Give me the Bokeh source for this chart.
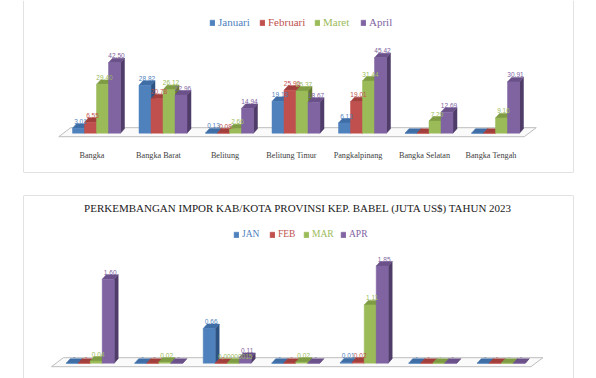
from bokeh.plotting import figure
from bokeh.models import Range1d, Span, Legend, LegendItem, Label
from bokeh.layouts import column
from bokeh.embed import file_html
from bokeh.resources import INLINE
from bokeh.core.properties import value

# ---------------- data ----------------
regions = ["Bangka", "Bangka Barat", "Belitung", "Belitung Timur",
           "Pangkalpinang", "Bangka Selatan", "Bangka Tengah"]

ekspor_months = ["Januari", "Februari", "Maret", "April"]
ekspor_jan = [3.01, 28.82, 0.13, 19.13, 6.13, 0.0, 0.0]
ekspor_feb = [6.55, 20.78, 0.08, 25.90, 19.01, 0.0, 0.0]
ekspor_mar = [29.40, 26.12, 2.66, 25.37, 31.44, 7.29, 9.16]
ekspor_apr = [42.50, 22.96, 14.94, 18.67, 45.42, 12.69, 30.91]

impor_title = "PERKEMBANGAN IMPOR KAB/KOTA PROVINSI KEP. BABEL (JUTA US$) TAHUN 2023"
impor_months = ["JAN", "FEB", "MAR", "APR"]
impor_jan = [0.0, 0.0, 0.66, 0.0, 0.01, 0.0, 0.0]
impor_feb = [0.0, 0.0, 0.0, 0.0, 0.02, 0.0, 0.0]
impor_mar = [0.04, 0.02, 0.00000015, 0.02, 1.11, 0.0, 0.0]
impor_apr = [1.60, 0.0, 0.11, 0.0, 1.85, 0.0, 0.0]

# ---------------- style ----------------
FRONT = ["#4F81BD", "#C0504D", "#9BBB59", "#8064A2"]
SIDE = ["#2E5282", "#7E2F2D", "#63792F", "#4F3C68"]
TOP = ["#3F6DA6", "#A13F3C", "#7F9C45", "#6A5189"]
BORDER = "#C6C6C6"
SERIF = "Liberation Serif"
SANS = "Liberation Sans"


def fmt(v, zero_text):
    if v == 0:
        return zero_text
    if v < 0.005:
        s = f"{v:.8f}"
    else:
        s = f"{v:.2f}"
    return s.replace(".", ",")


def chart(series, names, fig_h, top_pad, bottom_pad, first_px, spacing_px,
          base_px, scale_px, zero_text, cat_offset, legend_pos, legend_size,
          border_sides):
    W, L, R = 596, 23, 23
    fw = W - L - R
    fh = fig_h - top_pad - bottom_pad
    x0 = -first_px / spacing_px
    x1 = x0 + fw / spacing_px
    y0 = -(fh - base_px) / scale_px
    y1 = base_px / scale_px
    p = figure(width=W, height=fig_h, output_backend="svg", toolbar_location=None,
               x_axis_location=None, y_axis_location=None, title=None,
               x_range=Range1d(x0, x1), y_range=Range1d(y0, y1),
               min_border_left=L, min_border_right=R,
               min_border_top=top_pad, min_border_bottom=bottom_pad)
    p.outline_line_color = None
    p.background_fill_color = "white"
    p.border_fill_color = "white"
    p.xgrid.visible = False
    p.ygrid.visible = False

    n = len(regions)
    bw = 12.0 / spacing_px
    ddx = 4.0 / spacing_px
    ddy = 4.5 / scale_px

    # floor
    fx = [-0.5 - 4.5 / spacing_px, n - 0.5 - 4.5 / spacing_px,
          n - 0.5 + 7.5 / spacing_px, -0.5 + 7.5 / spacing_px]
    fy = [-3.5 / scale_px, -3.5 / scale_px, 5.5 / scale_px, 5.5 / scale_px]
    p.patch(fx, fy, fill_color="#FAFAFA", line_color="#BDBDBD", line_width=1)

    fronts = []
    for j, vals in enumerate(series):
        xc = [i + (j - 1.5) * bw for i in range(n)]
        xl = [x - bw / 2 for x in xc]
        xr = [x + bw / 2 for x in xc]
        side_xs = [[a, a + ddx, a + ddx, a] for a in xr]
        side_ys = [[0, ddy, v + ddy, v] for v in vals]
        top_xs = [[a, b, b + ddx, a + ddx] for a, b in zip(xl, xr)]
        top_ys = [[v, v, v + ddy, v + ddy] for v in vals]
        p.patches(side_xs, side_ys, fill_color=SIDE[j], line_color=SIDE[j], line_width=0.5)
        p.patches(top_xs, top_ys, fill_color=TOP[j], line_color=TOP[j], line_width=0.5)
        fr = p.vbar(x=xc, width=bw, top=vals, bottom=0, fill_color=FRONT[j],
                    line_color=FRONT[j], line_width=0.5)
        fronts.append(fr)

    for j, vals in enumerate(series):
        xc = [i + (j - 1.5) * bw + ddx / 2 for i in range(n)]
        txt = [fmt(v, zero_text) for v in vals]
        p.text(x=xc, y=vals, text=txt, text_align="center", text_baseline="middle",
               y_offset=-7, text_font=value(SANS), text_font_size="6.5px",
               text_color=FRONT[j])

    if cat_offset is not None:
        p.text(x=list(range(n)), y=[0] * n, text=regions, text_align="center",
               text_baseline="middle", x_offset=-4.5, y_offset=cat_offset,
               text_font=value(SERIF), text_font_size="8.2px", text_color="#404040")

    for j, name in enumerate(names):
        lg = Legend(items=[LegendItem(label=value(name), renderers=[fronts[j]])],
                    location=(legend_pos[0][j], legend_pos[1]),
                    orientation="horizontal", padding=0, margin=0, spacing=0,
                    glyph_width=6, glyph_height=7, label_standoff=3,
                    label_height=0, label_width=0,
                    label_text_font=SERIF, label_text_font_size=legend_size,
                    label_text_color=FRONT[j], border_line_color=None,
                    background_fill_alpha=0)
        p.add_layout(lg)

    for side in border_sides:
        if side == "left":
            p.add_layout(Span(location=x0, dimension="height", line_color=BORDER, line_width=1))
        if side == "right":
            p.add_layout(Span(location=x1, dimension="height", line_color=BORDER, line_width=1))
        if side == "bottom":
            p.add_layout(Span(location=y0, dimension="width", line_color=BORDER, line_width=1))
        if side == "top":
            p.add_layout(Span(location=y1, dimension="width", line_color=BORDER, line_width=1))
    return p


p1 = chart([ekspor_jan, ekspor_feb, ekspor_mar, ekspor_apr], ekspor_months,
           fig_h=184, top_pad=0, bottom_pad=12, first_px=73, spacing_px=66.5,
           base_px=132.7, scale_px=1.66, zero_text="", cat_offset=22,
           legend_pos=([186, 236, 291, 337], 144), legend_size="11px",
           border_sides=["left", "right", "bottom"])

p2 = chart([impor_jan, impor_feb, impor_mar, impor_apr], impor_months,
           fig_h=194, top_pad=11, bottom_pad=0, first_px=66.7, spacing_px=68.5,
           base_px=167.7, scale_px=52.5, zero_text="-", cat_offset=None,
           legend_pos=([210, 246, 280, 317], 139), legend_size="9.5px",
           border_sides=["left", "right", "top"])

p2.add_layout(Label(x=275, y=171, x_units="screen", y_units="screen",
                    text=impor_title, text_align="center", text_baseline="middle",
                    text_font=SERIF, text_font_size="11px", text_color="#1A1A1A"))

layout = column(p1, p2, spacing=0)
open("out.html", "w").write(file_html(layout, INLINE))
